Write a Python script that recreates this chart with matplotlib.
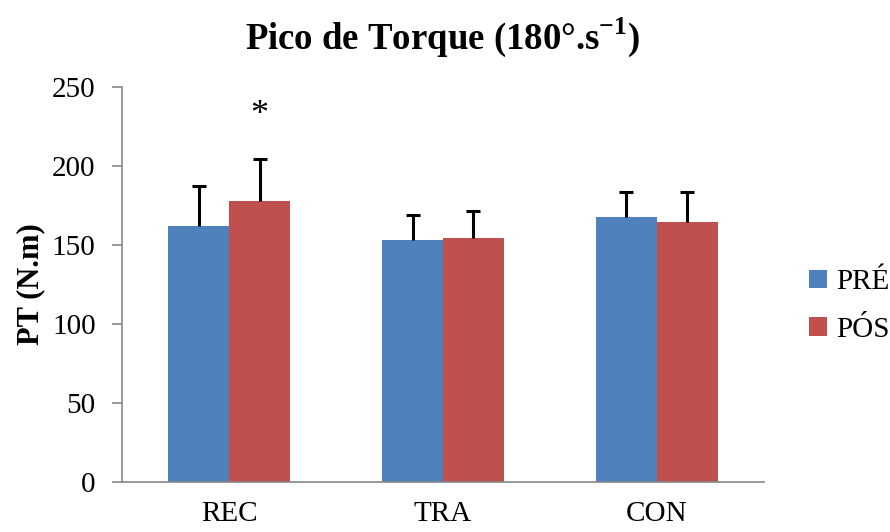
import numpy as np
import matplotlib.pyplot as plt

plt.rcParams['font.family'] = ['Liberation Serif', 'DejaVu Serif']
plt.rcParams['mathtext.fontset'] = 'custom'
plt.rcParams['mathtext.rm'] = 'Liberation Serif'
plt.rcParams['mathtext.bf'] = 'Liberation Serif:bold'

# pico de torque a 180 graus/s, media e desvio padrao
grupos = ['REC', 'TRA', 'CON']
pre = [162, 153, 167.5]
pre_dp = [25.5, 16, 16]
pos = [178, 154.5, 164.5]
pos_dp = [26, 17, 19]
series = ['PRÉ', 'PÓS']
cores = ['#4F81BD', '#C0504D']

fig = plt.figure(figsize=(8.9, 5.32), dpi=100)
ax = fig.add_axes([0.1371, 0.094, 0.7213, 0.743])

x = np.arange(len(grupos))
w = 0.285
err_kw = dict(ecolor='black', elinewidth=2.2, capsize=5, capthick=2.2)
b1 = ax.bar(x - w / 2, pre, w, color=cores[0], label=series[0],
            yerr=[np.zeros(3), pre_dp], error_kw=err_kw)
b2 = ax.bar(x + w / 2, pos, w, color=cores[1], label=series[1],
            yerr=[np.zeros(3), pos_dp], error_kw=err_kw)
# so a barra de erro superior: esconde o cap de baixo
for b in (b1, b2):
    b.errorbar.lines[1][0].set_visible(False)

# diferenca significativa em REC
ax.text(x[0] + w / 2, 232, '*', ha='center', va='center', fontsize=26)

ax.set_xlim(-0.5, 2.5)
ax.set_ylim(0, 250)
ax.set_yticks(np.arange(0, 251, 50))
ax.set_xticks(x)
ax.set_xticklabels(grupos)

for s in ['top', 'right']:
    ax.spines[s].set_visible(False)
for s in ['left', 'bottom']:
    ax.spines[s].set_color('#868686')
    ax.spines[s].set_linewidth(1.2)
ax.tick_params(axis='y', length=7, width=1.2, color='#868686', pad=12, labelsize=21)
ax.tick_params(axis='x', length=0, pad=14, labelsize=21)

ax.set_title('Pico de Torque (180°.s$^{\\mathbf{-1}}$)', fontsize=26.5, fontweight='bold', pad=27)
ax.set_ylabel('PT (N.m)', fontsize=22, fontweight='bold', labelpad=5)

ax.legend(loc='center left', bbox_to_anchor=(1.03, 0.445), frameon=False,
          fontsize=21, handlelength=0.6, handleheight=0.6, handletextpad=0.3,
          labelspacing=0.75)

fig.savefig('out.png', dpi=100)
